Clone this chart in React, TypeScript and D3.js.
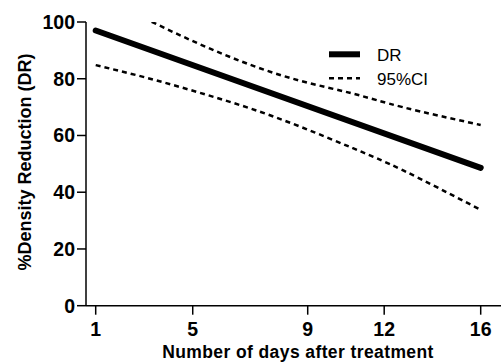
import React, { useEffect, useRef } from "react";
import * as d3 from "d3";

// days after treatment and the fitted density reduction
const drDays = [1, 16];
const drValues = [97, 48.6];

// 95% confidence band
const ciDays = [1, 3, 5, 7, 9, 11, 13, 16];
const ciLower = [84.8, 80.3, 75.2, 69.6, 63.0, 55.6, 47.6, 33.8];
const ciUpper = [110.3, 100.9, 92.4, 85.0, 79.2, 74.8, 69.9, 63.7];

// x ticks: where each label sits on the day axis, and its text
const xTickAt = [1, 4.78, 9.26, 12.24, 16];
const xTickLabels = ["1", "5", "9", "12", "16"];
const yTicks = [0, 20, 40, 60, 80, 100];

const legendItems = ["DR", "95%CI"];

const FONT = "'Liberation Sans', Arial, Helvetica, sans-serif";

const App = () => {
  const svgRef = useRef<SVGSVGElement>(null);

  useEffect(() => {
    const svg = d3.select(svgRef.current);
    svg.selectAll("*").remove();

    const width = 501,
      height = 363;
    const axisX = 86;

    const x = d3.scaleLinear().domain([1, 16]).range([95.7, 480.7]);
    const y = d3.scaleLinear().domain([0, 100]).range([305.7, 22]);

    svg.attr("width", width).attr("height", height);

    svg
      .append("defs")
      .append("clipPath")
      .attr("id", "plot-clip")
      .append("rect")
      .attr("x", axisX)
      .attr("y", y(100))
      .attr("width", width - axisX)
      .attr("height", y(0) - y(100));

    // axes
    const axes = svg.append("g").attr("stroke", "#000").attr("stroke-width", 1.5);
    axes
      .append("line")
      .attr("x1", axisX)
      .attr("x2", axisX)
      .attr("y1", y(100))
      .attr("y2", y(0));
    axes
      .append("line")
      .attr("x1", axisX)
      .attr("x2", width)
      .attr("y1", y(0))
      .attr("y2", y(0));

    axes
      .selectAll(".ytick")
      .data(yTicks)
      .enter()
      .append("line")
      .attr("x1", axisX - 9)
      .attr("x2", axisX)
      .attr("y1", (d) => y(d))
      .attr("y2", (d) => y(d));

    axes
      .selectAll(".xtick")
      .data(xTickAt)
      .enter()
      .append("line")
      .attr("x1", (d) => x(d))
      .attr("x2", (d) => x(d))
      .attr("y1", y(0))
      .attr("y2", y(0) + 9);

    svg
      .append("g")
      .selectAll("text")
      .data(yTicks)
      .enter()
      .append("text")
      .attr("x", axisX - 11)
      .attr("y", (d) => y(d) + 6.8)
      .attr("text-anchor", "end")
      .attr("font-family", FONT)
      .attr("font-weight", "bold")
      .attr("font-size", "19.5px")
      .text((d) => d);

    svg
      .append("g")
      .selectAll("text")
      .data(xTickAt)
      .enter()
      .append("text")
      .attr("x", (d) => x(d))
      .attr("y", 336)
      .attr("text-anchor", "middle")
      .attr("font-family", FONT)
      .attr("font-weight", "bold")
      .attr("font-size", "19.5px")
      .text((d, i) => xTickLabels[i]);

    // axis titles
    svg
      .append("text")
      .attr("x", 298)
      .attr("y", 358)
      .attr("text-anchor", "middle")
      .attr("font-family", FONT)
      .attr("font-weight", "bold")
      .attr("font-size", "17.5px")
      .attr("letter-spacing", "0.4px")
      .text("Number of days after treatment");

    svg
      .append("text")
      .attr("transform", "translate(30.5, 162) rotate(-90)")
      .attr("text-anchor", "middle")
      .attr("font-family", FONT)
      .attr("font-weight", "bold")
      .attr("font-size", "18px")
      .text("%Density Reduction (DR)");

    // lines
    const plot = svg.append("g").attr("clip-path", "url(#plot-clip)");

    const ciLine = d3
      .line<number>()
      .x((d, i) => x(ciDays[i]))
      .y((d) => y(d))
      .curve(d3.curveNatural);

    [ciLower, ciUpper].forEach((vals) => {
      plot
        .append("path")
        .attr("d", ciLine(vals))
        .attr("fill", "none")
        .attr("stroke", "#000")
        .attr("stroke-width", 2.5)
        .attr("stroke-dasharray", "5,4");
    });

    const drLine = d3
      .line<number>()
      .x((d, i) => x(drDays[i]))
      .y((d) => y(d));

    svg
      .append("path")
      .attr("d", drLine(drValues))
      .attr("fill", "none")
      .attr("stroke", "#000")
      .attr("stroke-width", 6)
      .attr("stroke-linecap", "round");

    // legend
    const legend = svg.append("g");
    legendItems.forEach((label, i) => {
      const ly = 54.3 + i * 24;
      legend
        .append("line")
        .attr("x1", 329)
        .attr("x2", 360)
        .attr("y1", ly)
        .attr("y2", ly)
        .attr("stroke", "#000")
        .attr("stroke-width", i === 0 ? 6 : 2.5)
        .attr("stroke-dasharray", i === 0 ? null : "5,4");
      legend
        .append("text")
        .attr("x", 377)
        .attr("y", ly + 7)
        .attr("font-family", FONT)
        .attr("font-size", "17px")
        .text(label);
    });
  }, []);

  return (
    <svg
      ref={svgRef}
      style={{ position: "absolute", left: 0, top: 0, background: "#fff" }}
    ></svg>
  );
};

export default App;
